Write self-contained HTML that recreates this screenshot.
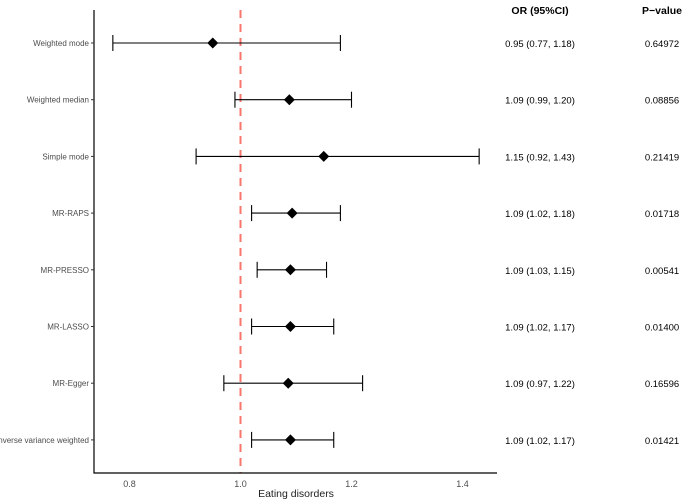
<!DOCTYPE html>
<html><head><meta charset="utf-8"><style>
body{margin:0;background:#fff;}
svg{display:block;font-family:"Liberation Sans",Arial,sans-serif;}
</style></head><body>
<svg id="chart" width="685" height="499" viewBox="0 0 685 499" xmlns="http://www.w3.org/2000/svg"></svg>
<script>
const methods=["Weighted mode","Weighted median","Simple mode","MR-RAPS","MR-PRESSO","MR-LASSO","MR-Egger","Inverse variance weighted"];
const orVals=[0.95,1.088,1.15,1.093,1.09,1.09,1.086,1.09];
const lowerVals=[0.77,0.99,0.92,1.02,1.03,1.02,0.97,1.02];
const upperVals=[1.18,1.20,1.43,1.18,1.155,1.168,1.22,1.168];
const orLabels=["0.95 (0.77, 1.18)","1.09 (0.99, 1.20)","1.15 (0.92, 1.43)","1.09 (1.02, 1.18)","1.09 (1.03, 1.15)","1.09 (1.02, 1.17)","1.09 (0.97, 1.22)","1.09 (1.02, 1.17)"];
const pLabels=["0.64972","0.08856","0.21419","0.01718","0.00541","0.01400","0.16596","0.01421"];
const xTicks=[0.8,1.0,1.2,1.4];
const xTickLabels=["0.8","1.0","1.2","1.4"];
const refValue=1.0;

const NS="http://www.w3.org/2000/svg";
const svg=document.getElementById('chart');
const X=v=>240.5+(v-1)*555;
const Y=i=>43+i*56.7;
function mk(tag,attrs,text){const e=document.createElementNS(NS,tag);for(const k in attrs)e.setAttribute(k,attrs[k]);if(text!==undefined)e.textContent=text;svg.appendChild(e);return e;}

let e;
e=mk('line',{x1:X(refValue),x2:X(refValue),y1:10,y2:473,stroke:'#f8766d','stroke-width':2,'stroke-dasharray':'8,6'});

e=mk('line',{x1:94,x2:94,y1:10,y2:473.5,stroke:'#000','stroke-width':1.2});

e=mk('line',{x1:93.5,x2:497,y1:473,y2:473,stroke:'#000','stroke-width':1.2});


xTicks.forEach((t,i)=>{
  e=mk('text',{x:X(t),y:487,'text-anchor':'middle','font-size':9,fill:'#4d4d4d'},xTickLabels[i]);
  
});
e=mk('text',{x:296,y:497,'text-anchor':'middle','font-size':10.5,fill:'#222'},'Eating disorders');


e=mk('text',{x:540,y:14,'text-anchor':'middle','font-size':10.5,'font-weight':'bold',fill:'#000'},'OR (95%CI)');

e=mk('text',{x:662,y:14,'text-anchor':'middle','font-size':10.5,'font-weight':'bold',fill:'#000'},'P\u2212value');


methods.forEach((m,i)=>{
  const y=Y(i);
  e=mk('line',{x1:91,x2:94,y1:y,y2:y,stroke:'#333','stroke-width':1});
  
  e=mk('text',{x:89,y:y+3,'text-anchor':'end','font-size':8,fill:'#4d4d4d'},m);
  
  e=mk('line',{x1:X(lowerVals[i]),x2:X(upperVals[i]),y1:y,y2:y,stroke:'#000','stroke-width':1.1});
  
  [lowerVals[i],upperVals[i]].forEach(v=>{
    e=mk('line',{x1:X(v),x2:X(v),y1:y-8,y2:y+8,stroke:'#000','stroke-width':1.1});
    
  });
  const cx=X(orVals[i]);
  e=mk('polygon',{points:`${cx},${y-5.5} ${cx+5.5},${y} ${cx},${y+5.5} ${cx-5.5},${y}`,fill:'#000'});
  
  e=mk('text',{x:540,y:y+4,'text-anchor':'middle','font-size':9.5,fill:'#000'},orLabels[i]);
  
  e=mk('text',{x:662,y:y+4,'text-anchor':'middle','font-size':9.5,fill:'#000'},pLabels[i]);
  
});
</script>
</body></html>
